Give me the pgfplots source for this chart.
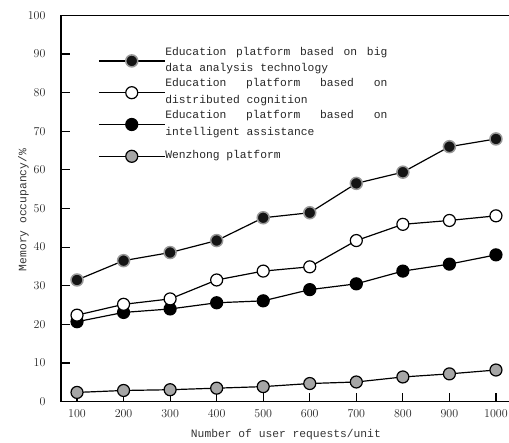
\documentclass[border=0pt]{standalone}
\usepackage{pgfplots}
\pgfplotsset{compat=1.18}
\usepackage{fontspec}
\setmainfont{Liberation Serif}
\newfontfamily\cn{Liberation Mono}
\newcommand{\lentry}[1]{\smash{\raisebox{-3pt}{\parbox[c]{222pt}{\hyphenpenalty=10000\exhyphenpenalty=10000\spaceskip=6.78pt plus 20pt\relax #1}}}}
\begin{document}
\begin{tikzpicture}
\begin{axis}[
 name=ax,
 scale only axis, width=448pt, height=386.4pt,
 xmin=65.6, xmax=1028, ymin=0, ymax=100,
 axis x line=box, axis y line=left,
 axis line style={-, line width=1.3pt, black},
 xtick={100,200,...,1000}, ytick={0,10,...,100},
 xtick pos=left, ytick pos=left,
 tick align=inside, major tick length=8.7pt,
 tick style={line width=1.2pt, black},
 /pgf/number format/1000 sep={},
 ticklabel style={font=\fontsize{12.5}{14}\selectfont, text=black!85},
 yticklabel style={xshift=-12pt},
 xticklabel style={yshift=-5pt},
 xlabel={Number of user requests/unit},
 ylabel={Memory occupancy/\%},
 label style={font=\fontsize{11.3}{13}\selectfont\cn, text=black!80},
 xlabel style={at={(axis description cs:0.502,-0.086)}, anchor=center},
 ylabel style={at={(axis description cs:-0.084,0.496)}, anchor=center},
 legend style={draw=none, fill=none, at={(axis cs:145,89.8)}, anchor=north west,
   inner sep=0pt, row sep=19.8pt, font=\fontsize{11.3}{16.5}\selectfont\cn, text=black!85,
   nodes={inner sep=0pt},
   /tikz/every even column/.append style={column sep=7pt}},
 legend cell align=left,
 reverse legend,
 legend image code/.code={\draw[mark repeat=2,mark phase=2,#1] plot coordinates {(0pt,0pt) (33pt,0pt) (66pt,0pt)};},
]
% Wenzhong platform
\addplot[line width=1.2pt, black, mark=*, mark size=6pt, mark options={fill=black!35, draw=black, line width=1.2pt}]
 coordinates {(100,2.4) (200,2.9) (300,3.1) (400,3.5) (500,3.9) (600,4.7) (700,5.1) (800,6.4) (900,7.2) (1000,8.2)};
\addlegendentry{\lentry{Wenzhong platform}}
% intelligent assistance
\addplot[line width=1.2pt, black, mark=*, mark size=6pt, mark options={fill=black, draw=black, line width=1.2pt}]
 coordinates {(100,20.7) (200,23.1) (300,24.0) (400,25.6) (500,26.1) (600,29.0) (700,30.5) (800,33.8) (900,35.6) (1000,38.0)};
\addlegendentry{\lentry{Education platform based on intelligent assistance}}
% distributed cognition
\addplot[line width=1.2pt, black, mark=*, mark size=6pt, mark options={fill=white, draw=black, line width=1.2pt}]
 coordinates {(100,22.4) (200,25.2) (300,26.6) (400,31.5) (500,33.8) (600,34.9) (700,41.7) (800,45.9) (900,46.9) (1000,48.1)};
\addlegendentry{\lentry{Education platform based on distributed cognition}}
% big data analysis
\addplot[line width=1.2pt, black, mark=*, mark size=6pt, mark options={fill=black!92, draw=black!40, line width=1.5pt}]
 coordinates {(100,31.5) (200,36.5) (300,38.6) (400,41.7) (500,47.6) (600,48.9) (700,56.5) (800,59.4) (900,66.0) (1000,68.0)};
\addlegendentry{\lentry{Education platform based on big data analysis technology}}
\end{axis}
\pgfresetboundingbox
\path[use as bounding box] (-61pt,-41.3pt) rectangle (448pt,401.7pt);
\end{tikzpicture}
\end{document}
